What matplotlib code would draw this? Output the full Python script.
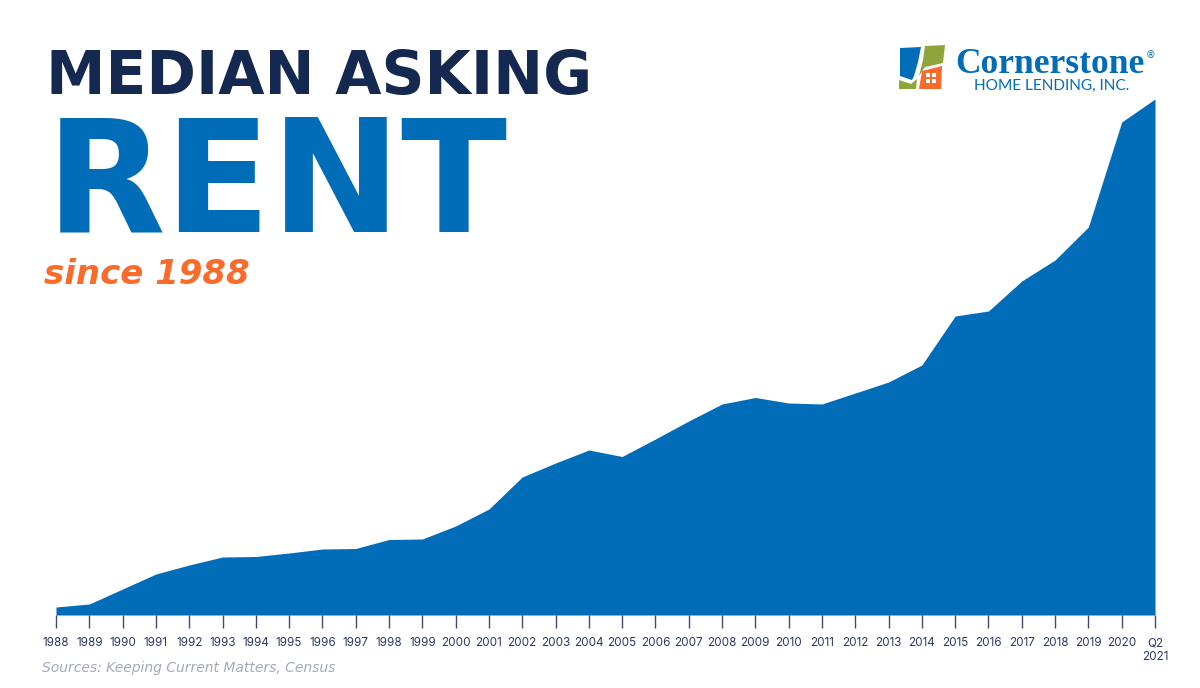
import matplotlib
matplotlib.use("Agg")
import matplotlib.pyplot as plt
from matplotlib.patches import Polygon

W, H = 1200, 688
years = [str(y) for y in range(1988, 2021)] + ["Q2\n2021"]
# Rent values in arbitrary units: the reference has no value axis
rent = [8, 11, 26, 41, 50, 58, 58.5, 62, 66, 66.5, 75.5, 76, 89, 106, 138, 152,
        165, 158.5, 176, 194, 211, 217.5, 212, 211, 222, 233, 250, 299, 304,
        334, 355, 388, 493, 516]

BLUE = "#016CB8"
NAVY = "#15284F"
ORANGE = "#F96B2B"
GREEN = "#8FA43A"

fig = plt.figure(figsize=(W / 100, H / 100), dpi=100, facecolor="white")
ax = fig.add_axes([56 / W, 1 - 615 / H, (1155 - 56) / W, (615 - 90) / H])
x = list(range(len(rent)))
ax.fill_between(x, rent, 0, color=BLUE, lw=0)
ax.set_xlim(0, len(rent) - 1)
ax.set_ylim(0, 525)
ax.set_xticks(x)
ax.set_xticklabels(years, fontsize=8.4, color="#2A3A5E", family="Inter", linespacing=1.25)
ax.tick_params(axis="x", length=9, width=1, color="#3E4C6E", pad=7)
ax.set_yticks([])
for s in ax.spines.values():
    s.set_visible(False)
ax.patch.set_alpha(0)


def T(px, py, s, **kw):
    return fig.text(px / W, 1 - py / H, s, va="baseline", ha="left", **kw)


T(46, 94, "MEDIAN ASKING", fontsize=43, color=NAVY, family="DejaVu Sans", weight="bold")
T(46, 232, "RENT", fontsize=112, color=BLUE, family="DejaVu Sans", weight="bold")
T(44, 284, "since 1988", fontsize=24.5, color=ORANGE, family="DejaVu Sans", weight="bold", style="italic")
T(42, 672, "Sources: Keeping Current Matters, Census", fontsize=10, color="#A3A9B8",
  family="DejaVu Sans", style="italic")

T(955, 73, "Cornerstone", fontsize=25.5, color=BLUE, family="Liberation Serif", weight="bold")
T(1146, 58, "®", fontsize=7, color=BLUE, family="DejaVu Sans")
T(974, 90, "HOME LENDING, INC.", fontsize=11.1, color=BLUE, family="Lato")


def logo(points, color):
    fig.add_artist(Polygon([(px / W, 1 - py / H) for px, py in points], closed=True,
                           transform=fig.transFigure, fc=color, ec="none"))


logo([(900, 48), (921, 47), (918, 62), (914, 76), (912, 80), (900, 76)], BLUE)
logo([(925, 46), (945, 45), (943, 63), (925, 67), (919, 76), (923, 60)], GREEN)
logo([(899, 80), (911, 84), (917, 79), (916, 89), (899, 89)], GREEN)
logo([(922, 71), (942, 66), (941, 89), (919, 89)], ORANGE)
for ox, oy in [(926, 73), (932, 73), (926, 79), (932, 79)]:
    logo([(ox, oy), (ox + 4, oy), (ox + 4, oy + 4), (ox, oy + 4)], "white")

fig.savefig("out.png", dpi=100, facecolor="white")
